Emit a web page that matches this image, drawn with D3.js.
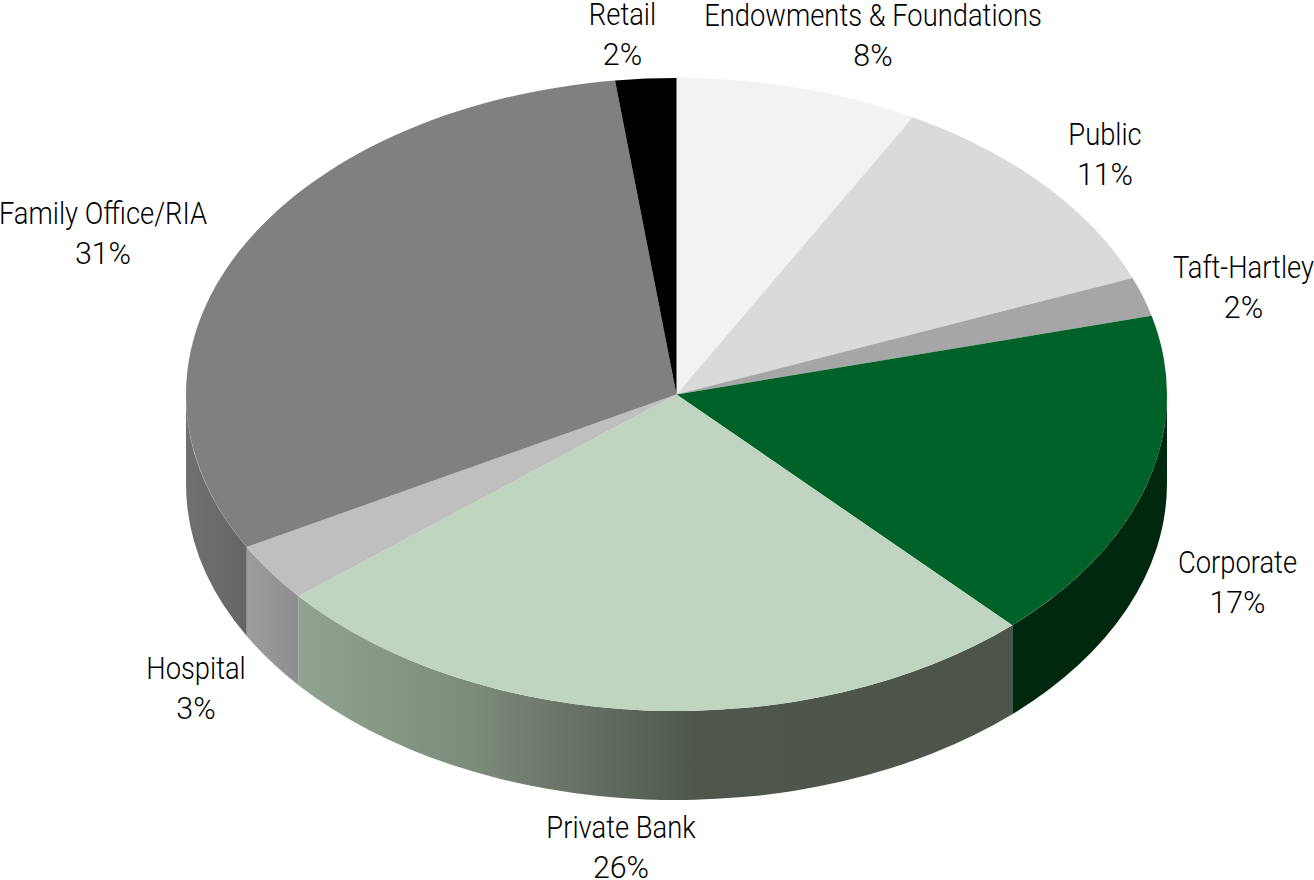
<!DOCTYPE html>
<html>
<head>
<meta charset="utf-8">
<script src="https://cdn.jsdelivr.net/npm/d3@7"></script>
<style>
  html, body { margin: 0; padding: 0; background: #fff; }
  svg { display: block; }
  text { font-family: Roboto, "Liberation Sans", sans-serif; font-weight: 300; fill: #000; }
</style>
</head>
<body>
<div id="chart"></div>
<script>
const categories = ["Endowments & Foundations", "Public", "Taft-Hartley", "Corporate", "Private Bank", "Hospital", "Family Office/RIA", "Retail"];
const shares = [8, 11, 2, 17, 26, 3, 31, 2];

const topColors = ["#f2f2f2", "#dadada", "#a6a6a6", "#006229", "#c0d5c0", "#bfbfbf", "#808080", "#000000"];
const sideColors = ["#c2c2c2", "#aeaeae", "#858585", "#00280f", "url(#sideBank)", "url(#sideHospital)", "url(#sideFamily)", "#000000"];

// label anchor points, middle of first line
const labelX = [873, 1105, 1243.5, 1237.5, 621, 196, 103, 622.5];
const labelY = [26, 145, 278, 573, 838, 679, 224, 25];

const width = 1314, height = 880;
const cx = 676.5, cy = 394.5, rx = 490.5, ry = 316.5, depth = 89;
const fontSize = 32, lineGap = 40;
const squeezeName = 0.855, squeezePct = 0.95;

const svg = d3.select("#chart").append("svg")
  .attr("width", width)
  .attr("height", height)
  .attr("viewBox", `0 0 ${width} ${height}`);

function addGradient(id, x1, x2, stops) {
  let g = svg.append("defs").append("linearGradient")
    .attr("id", id)
    .attr("gradientUnits", "userSpaceOnUse")
    .attr("x1", x1).attr("x2", x2)
    .attr("y1", 0).attr("y2", 0);
  stops.forEach(s => g.append("stop").attr("offset", s[0]).attr("stop-color", s[1]));
}
addGradient("sideBank", 300, 1013, [[0, "#90a390"], [0.25, "#7c8a7a"], [0.4, "#656f63"], [0.56, "#4f574d"], [1, "#4d5449"]]);
addGradient("sideHospital", 248, 300, [[0, "#9c9c9c"], [1, "#8e8e8e"]]);
addGradient("sideFamily", 186, 248, [[0, "#707070"], [1, "#656565"]]);

const pie = d3.pie().sort(null).startAngle(0).endAngle(2 * Math.PI);
const slices = pie(shares);

// angle is clockwise from 12 o'clock, as in d3.pie
const px = a => cx + rx * Math.sin(a);
const py = a => cy - ry * Math.cos(a);

function sidePath(a0, a1) {
  let large = a1 - a0 > Math.PI ? 1 : 0;
  return `M${px(a0)},${py(a0)}`
    + `A${rx},${ry} 0 ${large} 1 ${px(a1)},${py(a1)}`
    + `L${px(a1)},${py(a1) + depth}`
    + `A${rx},${ry} 0 ${large} 0 ${px(a0)},${py(a0) + depth}Z`;
}

// only the front half of the wall can be seen
const sides = svg.append("g").attr("class", "sides");
slices.forEach((d, i) => {
  let a0 = Math.max(d.startAngle, Math.PI / 2);
  let a1 = Math.min(d.endAngle, Math.PI * 3 / 2);
  if (a1 <= a0) return;
  sides.append("path")
    .attr("d", sidePath(a0, a1))
    .attr("fill", sideColors[i]);
});

const arc = d3.arc().innerRadius(0).outerRadius(rx);
svg.append("g")
  .attr("class", "tops")
  .attr("transform", `translate(${cx},${cy}) scale(1,${ry / rx})`)
  .selectAll("path")
  .data(slices)
  .join("path")
  .attr("d", arc)
  .attr("fill", (d, i) => topColors[i]);

const labels = svg.append("g").attr("class", "labels")
  .attr("font-size", fontSize)
  .attr("text-anchor", "middle");
categories.forEach((c, i) => {
  labels.append("text")
    .attr("transform", `translate(${labelX[i]},${labelY[i]}) scale(${squeezeName},1)`)
    .text(c);
  labels.append("text")
    .attr("transform", `translate(${labelX[i]},${labelY[i] + lineGap}) scale(${squeezePct},1)`)
    .text(shares[i] + "%");
});
</script>
</body>
</html>
